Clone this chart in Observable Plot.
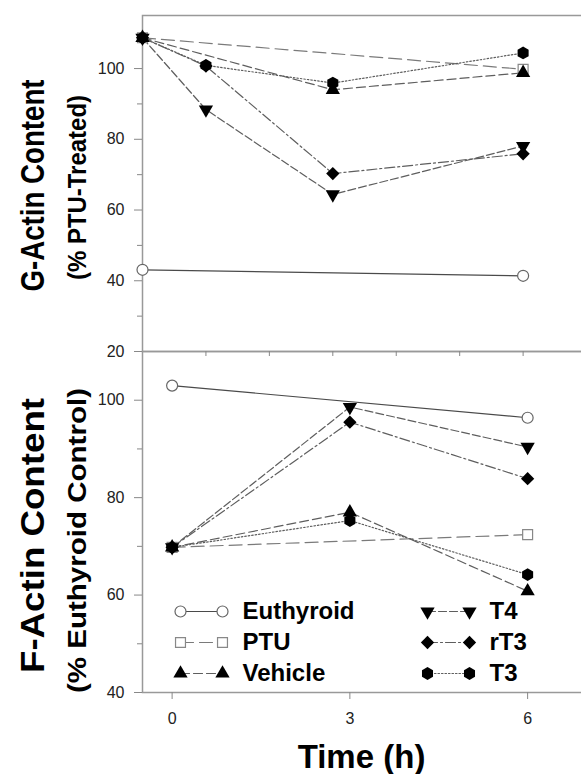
<!DOCTYPE html>
<html><head><meta charset="utf-8">
<script src="https://cdn.jsdelivr.net/npm/d3@7"></script>
<script src="https://cdn.jsdelivr.net/npm/@observablehq/plot@0.6"></script>
<style>
body{margin:0;background:#fff;}
#wrap{position:relative;width:581px;height:774px;overflow:hidden;background:#fff;font-family:"Liberation Sans",Arial,Helvetica,sans-serif;}
#wrap svg{position:absolute;left:0;}
</style></head><body><div id="wrap"></div>
<script>
// ---------- data ----------
const series = ["Euthyroid", "PTU", "Vehicle", "T4", "rT3", "T3"];

// G-Actin (top panel), hours
const gHours = [0, 1, 3, 6];
const gEuthyroid = [43.1, null, null, 41.4];
const gPTU = [108.7, null, null, 99.8];
const gVehicle = [108.7, null, 94.0, 98.8];
const gT4 = [108.7, 88.4, 64.4, 78.1];
const grT3 = [108.7, 100.7, 70.3, 75.9];
const gT3 = [108.7, 100.9, 95.9, 104.4];

// F-Actin (bottom panel), hours
const fHours = [0, 3, 6];
const fEuthyroid = [103.0, null, 96.4];
const fPTU = [69.8, null, 72.4];
const fVehicle = [69.8, 77.0, 60.8];
const fT4 = [69.8, 98.6, 90.4];
const frT3 = [69.8, 95.5, 83.9];
const fT3 = [69.8, 75.3, 64.2];

// ticks and labels
const gYTicks = [20, 40, 60, 80, 100];
const gYMinor = [30, 50, 70, 90];
const gXTicks = [1, 2, 3, 4, 5, 6];
const fYTicks = [40, 60, 80, 100];
const fYMinor = [50, 70, 90];
const fXTicks = [0, 3, 6];
const gYLabels = ["G-Actin Content", "(% PTU-Treated)"];
const fYLabels = ["F-Actin Content", "(% Euthyroid Control)"];
const xLabel = "Time (h)";

// ---------- build tables ----------
function rows(hours, bySeries) {
  const out = [];
  for (const s of series) bySeries[s].forEach((v, i) => { if (v != null) out.push({series: s, hour: hours[i], value: v}); });
  return out;
}
const gData = rows(gHours, {Euthyroid: gEuthyroid, PTU: gPTU, Vehicle: gVehicle, T4: gT4, rT3: grT3, T3: gT3});
const fData = rows(fHours, {Euthyroid: fEuthyroid, PTU: fPTU, Vehicle: fVehicle, T4: fT4, rT3: frT3, T3: fT3});

// ---------- symbols & styles ----------
const SYM = {
  circle: {draw(c, s) { const r = Math.sqrt(s / Math.PI); c.moveTo(r, 0); c.arc(0, 0, r, 0, 2 * Math.PI); }},
  square: {draw(c, s) { const h = Math.sqrt(s) / 2; c.rect(-h, -h, 2 * h, 2 * h); }},
  triUp: {draw(c, s) { const a = Math.sqrt(s * 4 / Math.sqrt(3)), h = a * Math.sqrt(3) / 2;
    c.moveTo(0, -2 * h / 3); c.lineTo(a / 2, h / 3); c.lineTo(-a / 2, h / 3); c.closePath(); }},
  triDown: {draw(c, s) { const a = Math.sqrt(s * 4 / Math.sqrt(3)), h = a * Math.sqrt(3) / 2;
    c.moveTo(0, 2 * h / 3); c.lineTo(a / 2, -h / 3); c.lineTo(-a / 2, -h / 3); c.closePath(); }},
  diamond: {draw(c, s) { const h = Math.sqrt(s / 2); c.moveTo(0, -h); c.lineTo(h, 0); c.lineTo(0, h); c.lineTo(-h, 0); c.closePath(); }},
  hexagon: {draw(c, s) { const R = Math.sqrt(s / (1.5 * Math.sqrt(3)));
    for (let k = 0; k < 6; k++) { const a = -Math.PI / 2 + k * Math.PI / 3; const px = R * Math.cos(a), py = R * Math.sin(a); k ? c.lineTo(px, py) : c.moveTo(px, py); }
    c.closePath(); }}
};
const style = {
  Euthyroid: {stroke: "#4a4a4a", dash: null, symbol: SYM.circle, r: 5.5, fill: "white", mstroke: "#666"},
  PTU: {stroke: "#7a7a7a", dash: "13,6", symbol: SYM.square, r: 5.6, fill: "white", mstroke: "#888"},
  Vehicle: {stroke: "#5e5e5e", dash: "9,4", symbol: SYM.triUp, r: 5.3, fill: "#000", mstroke: "none"},
  T4: {stroke: "#5e5e5e", dash: "8,3", symbol: SYM.triDown, r: 5.3, fill: "#000", mstroke: "none"},
  rT3: {stroke: "#5e5e5e", dash: "10,3,2,3", symbol: SYM.diamond, r: 5.3, fill: "#000", mstroke: "none"},
  T3: {stroke: "#5e5e5e", dash: "1.5,2", symbol: SYM.hexagon, r: 5.8, fill: "#000", mstroke: "none"}
};
const FONT = '"Liberation Sans", Arial, Helvetica, sans-serif';
const svgStyle = {background: "transparent", maxWidth: "none", fontFamily: FONT};

function seriesMarks(data, x = "hour", y = "value") {
  const lines = series.map(s => Plot.line(data.filter(d => d.series === s), {
    x, y, stroke: style[s].stroke, strokeWidth: 1.2, strokeDasharray: style[s].dash
  }));
  const dots = series.map(s => Plot.dot(data.filter(d => d.series === s), {
    x, y, symbol: style[s].symbol, r: style[s].r, fill: style[s].fill,
    stroke: style[s].mstroke, strokeWidth: 1.2
  }));
  return [...lines, ...dots];
}
function axisMarks(yTicks, yMinor, xTicks, xLabels) {
  return [
    Plot.axisY(yTicks, {tickSize: 8, tickPadding: 10, fontSize: 16, fill: "#222", stroke: "#888", label: null}),
    Plot.axisY(yMinor, {tickSize: 5, tickFormat: () => "", stroke: "#888", label: null}),
    xLabels
      ? Plot.axisX(xTicks, {tickSize: 7, tickPadding: 13, fontSize: 16, fill: "#222", stroke: "#888", label: null})
      : Plot.axisX(xTicks, {tickSize: 5, tickFormat: () => "", stroke: "#888", label: null})
  ];
}
function yLabelMarks(labels, dy1, dy2) {
  return [
    Plot.text([labels[0]], {frameAnchor: "left", text: d => d, rotate: -90, dx: -109, dy: dy1, fontSize: 34, fontWeight: "bold", fill: "#000"}),
    Plot.text([labels[1]], {frameAnchor: "left", text: d => d, rotate: -90, dx: -65, dy: dy2, fontSize: 25, fontWeight: "bold", fill: "#000"})
  ];
}

// ---------- top panel (G-Actin) ----------
const topPlot = Plot.plot({
  width: 600, height: 362, marginTop: 15, marginBottom: 11, marginLeft: 142, marginRight: 0,
  style: svgStyle,
  x: {domain: [0, 7.22]},
  y: {domain: [20, 115]},
  marks: [
    Plot.frame({stroke: "#999", strokeWidth: 1.5}),
    ...axisMarks(gYTicks, gYMinor, gXTicks, false),
    ...seriesMarks(gData),
    ...yLabelMarks(gYLabels, 2, 4)
  ]
});

// ---------- bottom panel (F-Actin) ----------
const botPlot = Plot.plot({
  width: 600, height: 774, marginTop: 351, marginBottom: 82, marginLeft: 142, marginRight: 0,
  style: svgStyle,
  x: {domain: [-0.5, 7.23]},
  y: {domain: [40, 110]},
  marks: [
    Plot.frame({stroke: "#999", strokeWidth: 1.5}),
    ...axisMarks(fYTicks, fYMinor, fXTicks, true),
    ...seriesMarks(fData),
    ...yLabelMarks(fYLabels, 13.5, 18.5),
    Plot.text([xLabel], {frameAnchor: "bottom", text: d => d, dx: -10, dy: 75, fontSize: 33, fontWeight: "bold", fill: "#000"})
  ]
});

// ---------- legend ----------
const legendSlot = 42 / 247;
const legendPts = series.flatMap((s, i) => [0, 1].map(k => ({series: s, col: Math.floor(i / 3), row: i % 3, slot: k})));
const legendPlot = Plot.plot({
  width: 581, height: 100, margin: 0,
  style: svgStyle,
  x: {domain: [0, 1], range: [180, 427], axis: null},
  y: {type: "point", domain: [0, 1, 2], range: [20, 83], padding: 0, axis: null},
  marks: [
    ...series.map(s => Plot.line(legendPts.filter(d => d.series === s), {
      x: d => d.col + d.slot * legendSlot, y: "row", stroke: style[s].stroke, strokeWidth: 1.2, strokeDasharray: style[s].dash
    })),
    ...series.map(s => Plot.dot(legendPts.filter(d => d.series === s), {
      x: d => d.col + d.slot * legendSlot, y: "row", symbol: style[s].symbol, r: style[s].r,
      fill: style[s].fill, stroke: style[s].mstroke, strokeWidth: 1.2
    })),
    Plot.text(legendPts.filter(d => d.slot === 0), {
      x: "col", y: "row", text: "series", dx: 62, textAnchor: "start", fontSize: 24, fontWeight: "bold", fill: "#000"
    })
  ]
});

// stretch the rotated titles to the reference lengths (centered manually)
const lengths = {"G-Actin Content": 212, "(% PTU-Treated)": 185, "F-Actin Content": 275, "(% Euthyroid Control)": 305};
for (const svg of [topPlot, botPlot]) {
  svg.querySelectorAll("text").forEach(t => {
    const L = lengths[t.textContent];
    if (L) {
      t.setAttribute("text-anchor", "start");
      t.setAttribute("x", -L / 2);
      t.setAttribute("textLength", L);
      t.setAttribute("lengthAdjust", "spacingAndGlyphs");
    }
  });
}

const wrap = document.getElementById("wrap");
botPlot.style.top = "0px";
topPlot.style.top = "0px";
legendPlot.style.top = "590px";
wrap.appendChild(botPlot);
wrap.appendChild(topPlot);
wrap.appendChild(legendPlot);
</script>
</body></html>
